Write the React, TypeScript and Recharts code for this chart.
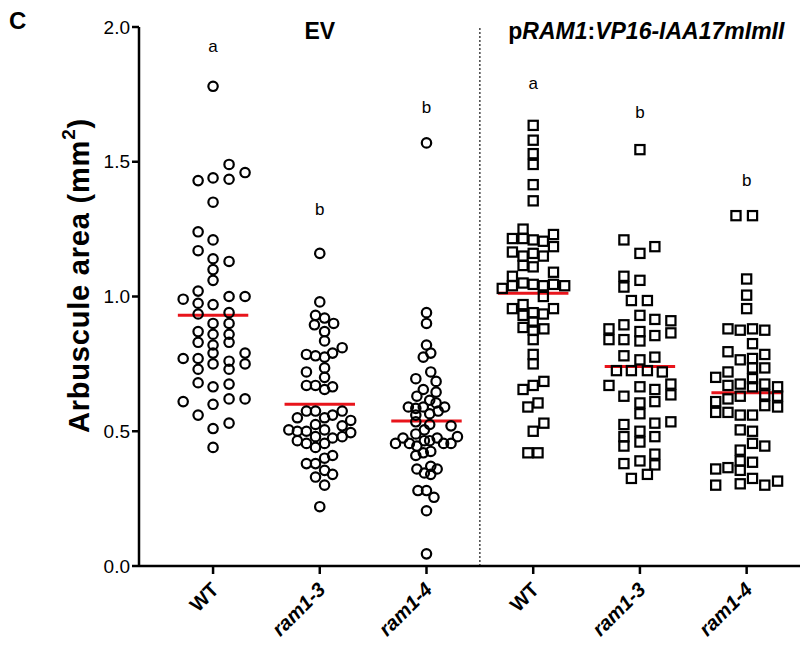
import { ReferenceLine, Scatter, ScatterChart, XAxis, YAxis } from "recharts";

const FONT = "'Liberation Sans', Arial, sans-serif";

const groupLabels = ["WT", "ram1-3", "ram1-4", "WT", "ram1-3", "ram1-4"];
const sigLetters = ["a", "b", "b", "a", "b", "b"];
const letterHeights = [1.926, 1.321, 1.703, 1.792, 1.681, 1.429];
const medians = [0.93, 0.6, 0.538, 1.012, 0.74, 0.643];
const yTicks = [0, 0.5, 1, 1.5, 2];
const xTicks = [1, 2, 3, 4, 5, 6];

// [arbuscule area mm², horizontal jitter in group widths]
const evWT: [number, number][] = [
  [1.78, 0], [1.49, 0.15], [1.46, 0.3], [1.43, -0.14], [1.44, 0], [1.435, 0.15],
  [1.35, 0], [1.24, -0.14], [1.21, 0], [1.17, -0.14], [1.14, 0], [1.13, 0.15],
  [1.1, 0], [1.06, 0], [1.02, -0.14], [0.99, -0.28], [0.975, -0.14], [0.97, 0],
  [1.0, 0.15], [1.0, 0.3], [0.935, -0.14], [0.94, 0.15], [0.9, 0], [0.9, 0.15],
  [0.87, -0.14], [0.86, 0], [0.86, 0.15], [0.83, -0.14], [0.82, 0], [0.83, 0.15],
  [0.79, 0], [0.79, 0.3], [0.77, -0.28], [0.77, -0.14], [0.75, 0], [0.76, 0.15],
  [0.75, 0.3], [0.73, -0.14], [0.73, 0.15], [0.68, -0.14], [0.665, 0], [0.675, 0.15],
  [0.61, -0.28], [0.6, 0], [0.62, 0.15], [0.62, 0.3], [0.56, -0.14], [0.51, 0],
  [0.53, 0.15], [0.44, 0],
];
const evRam13: [number, number][] = [
  [1.16, 0], [0.98, 0], [0.93, -0.04], [0.92, 0.045], [0.895, -0.05], [0.9, 0.13],
  [0.87, 0.045], [0.835, 0.045], [0.785, -0.125], [0.78, -0.04], [0.775, 0.045],
  [0.79, 0.12], [0.81, 0.21], [0.72, -0.125], [0.735, 0.045], [0.7, 0.045],
  [0.67, -0.125], [0.67, -0.04], [0.655, 0.045], [0.665, 0.12], [0.575, -0.125],
  [0.575, -0.04], [0.575, 0.21], [0.55, -0.21], [0.55, 0.045], [0.56, 0.12],
  [0.525, -0.04], [0.52, 0.21], [0.54, 0.29], [0.505, -0.29], [0.5, -0.21],
  [0.5, -0.125], [0.505, 0.045], [0.495, 0.29], [0.48, -0.04], [0.475, 0.12],
  [0.48, 0.21], [0.465, -0.21], [0.455, -0.125], [0.44, -0.04], [0.455, 0.045],
  [0.38, -0.125], [0.38, -0.04], [0.4, 0.045], [0.41, 0.12], [0.355, 0.045],
  [0.33, -0.04], [0.34, 0.12], [0.3, 0.045], [0.22, 0],
];
const evRam14: [number, number][] = [
  [1.57, 0], [0.94, 0], [0.9, 0], [0.82, 0], [0.79, 0.04], [0.775, -0.03],
  [0.72, 0.04], [0.695, -0.1], [0.685, 0.09], [0.655, -0.03], [0.645, 0.09],
  [0.63, -0.09], [0.615, 0.03], [0.59, -0.17], [0.585, -0.1], [0.59, -0.03],
  [0.605, 0.09], [0.59, 0.17], [0.56, -0.1], [0.565, 0.03], [0.575, 0.11],
  [0.52, 0.23], [0.535, -0.1], [0.525, 0.03], [0.49, -0.1], [0.505, -0.02],
  [0.48, 0.29], [0.455, -0.29], [0.475, -0.22], [0.455, -0.16], [0.445, -0.09],
  [0.465, -0.02], [0.465, 0.03], [0.475, 0.1], [0.455, 0.16], [0.455, 0.23],
  [0.42, -0.03], [0.425, 0.04], [0.41, -0.1], [0.36, -0.09], [0.345, -0.02],
  [0.37, 0.04], [0.36, 0.1], [0.34, 0.04], [0.28, -0.08], [0.28, 0],
  [0.255, 0.07], [0.205, 0], [0.045, 0],
];
const vpWT: [number, number][] = [
  [1.635, 0], [1.58, 0], [1.53, 0], [1.49, 0], [1.415, 0], [1.355, 0],
  [1.25, -0.095], [1.215, -0.195], [1.215, -0.095], [1.21, 0], [1.205, 0.095],
  [1.23, 0.19], [1.185, 0.19], [1.165, -0.195], [1.15, -0.095], [1.16, 0],
  [1.15, 0.095], [1.115, -0.095], [1.11, 0], [1.075, -0.195], [1.09, 0.19],
  [1.03, -0.29], [1.04, -0.195], [1.05, -0.095], [1.045, 0], [1.04, 0.095],
  [1.045, 0.19], [1.04, 0.295], [1.0, 0.095], [0.955, -0.195], [0.97, -0.095],
  [0.955, 0.19], [0.93, -0.095], [0.94, 0], [0.935, 0.095], [0.885, -0.095],
  [0.905, 0], [0.88, 0.1], [0.875, 0], [0.84, 0], [0.785, 0], [0.75, 0],
  [0.655, -0.095], [0.67, 0], [0.685, 0.1], [0.59, -0.05], [0.605, 0.045],
  [0.5, 0], [0.53, 0.1], [0.42, -0.05], [0.42, 0.045],
];
const vpRam13: [number, number][] = [
  [1.545, 0], [1.21, -0.15], [1.185, 0.14], [1.16, 0], [1.075, -0.15], [1.06, 0],
  [1.035, -0.15], [0.985, -0.08], [0.985, 0.07], [0.93, 0], [0.895, -0.15],
  [0.915, 0.14], [0.91, 0.29], [0.88, -0.29], [0.87, 0], [0.865, 0.29],
  [0.84, -0.29], [0.84, -0.15], [0.835, 0], [0.855, 0.14], [0.78, -0.15],
  [0.765, 0], [0.775, 0.14], [0.725, -0.22], [0.725, -0.08], [0.725, 0.07],
  [0.72, 0.21], [0.67, -0.29], [0.63, -0.15], [0.665, 0], [0.655, 0.14],
  [0.675, 0.29], [0.635, 0.29], [0.605, 0], [0.61, 0.14], [0.565, 0],
  [0.525, -0.15], [0.53, 0.14], [0.535, 0.29], [0.48, -0.15], [0.5, 0],
  [0.46, 0], [0.48, 0.14], [0.445, -0.15], [0.38, -0.15], [0.39, 0],
  [0.415, 0.14], [0.375, 0.14], [0.325, -0.08], [0.34, 0.07],
];
const vpRam14: [number, number][] = [
  [1.3, -0.1], [1.3, 0.055], [1.065, 0], [1.005, 0], [0.955, 0], [0.88, -0.175],
  [0.875, -0.06], [0.88, 0.055], [0.875, 0.17], [0.825, 0.055], [0.795, -0.175],
  [0.765, -0.06], [0.77, 0.055], [0.785, 0.17], [0.72, -0.175], [0.735, 0.055],
  [0.735, 0.17], [0.7, -0.29], [0.695, 0.055], [0.67, -0.175], [0.675, -0.06],
  [0.665, 0.055], [0.675, 0.17], [0.665, 0.29], [0.61, -0.29], [0.62, -0.175],
  [0.63, -0.06], [0.635, 0.17], [0.63, 0.29], [0.595, 0.17], [0.59, 0.29],
  [0.57, -0.29], [0.57, -0.175], [0.56, -0.06], [0.56, 0.055], [0.505, -0.06],
  [0.5, 0.055], [0.455, 0.055], [0.445, 0.17], [0.43, -0.06], [0.39, -0.06],
  [0.385, 0.055], [0.36, -0.29], [0.365, -0.175], [0.355, -0.06], [0.3, -0.29],
  [0.305, -0.06], [0.325, 0.055], [0.3, 0.17], [0.315, 0.29],
];

const groups = [evWT, evRam13, evRam14, vpWT, vpRam13, vpRam14];

const toPoints = (pts: [number, number][], gi: number) =>
  pts.map(([v, off]) => ({ x: gi + 1 + off, y: v }));

const Circle = (p: any) => (
  <circle cx={p.cx} cy={p.cy} r={4.7} fill="none" stroke="#000" strokeWidth={2.2} />
);
const Square = (p: any) => (
  <rect x={p.cx - 4.6} y={p.cy - 4.6} width={9.2} height={9.2} fill="none" stroke="#000" strokeWidth={2.2} />
);

const letterData = sigLetters.map((t, i) => ({ x: i + 1, y: letterHeights[i], t }));
const titleData = [
  { x: 2, y: 1.985, t: "ev" },
  { x: 5.06, y: 1.985, t: "vp" },
];

const TitleShape = (p: any) => {
  if (p.payload.t === "ev") {
    return (
      <text x={p.cx} y={p.cy} textAnchor="middle" dominantBaseline="central" fontFamily={FONT} fontWeight="bold" fontSize={23}>
        EV
      </text>
    );
  }
  return (
    <text x={p.cx} y={p.cy} textAnchor="middle" dominantBaseline="central" fontFamily={FONT} fontWeight="bold" fontSize={23}>
      <tspan>p</tspan>
      <tspan fontStyle="italic">RAM1</tspan>
      <tspan>:</tspan>
      <tspan fontStyle="italic">VP16-IAA17mImII</tspan>
    </text>
  );
};

const XTick = (p: any) => {
  const label = groupLabels[p.index];
  const italic = label !== "WT";
  const x = p.x + 2;
  const y = p.y + 10;
  return (
    <text
      x={x}
      y={y}
      transform={`rotate(-45 ${x} ${y})`}
      textAnchor="end"
      dominantBaseline="central"
      fontFamily={FONT}
      fontWeight="bold"
      fontStyle={italic ? "italic" : "normal"}
      fontSize={20}
      fill="#000"
    >
      {label}
    </text>
  );
};

const YLabel = (props: any) => {
  const vb = props.viewBox;
  const cx = vb.x + 79;
  const cy = vb.y + vb.height / 2 - 21;
  return (
    <text
      x={cx}
      y={cy}
      transform={`rotate(-90 ${cx} ${cy})`}
      textAnchor="middle"
      dominantBaseline="central"
      fontFamily={FONT}
      fontWeight="bold"
      fontSize={29}
      letterSpacing={0.8}
    >
      Arbuscule area (mm
      <tspan baselineShift="super" fontSize={19}>2</tspan>)
    </text>
  );
};

export default function App() {
  return (
    <div style={{ position: "absolute", left: 0, top: 0, width: 811, height: 654, background: "#fff" }}>
      <div
        style={{
          position: "absolute",
          left: 9,
          top: 8,
          fontFamily: FONT,
          fontWeight: "bold",
          fontSize: 24,
          lineHeight: "26px",
        }}
      >
        C
      </div>
      <ScatterChart width={811} height={654} margin={{ top: 27, right: 11, bottom: 8, left: 0 }}>
        <XAxis
          type="number"
          dataKey="x"
          domain={[0.306, 6.5]}
          ticks={xTicks}
          allowDataOverflow
          height={80}
          tickSize={8}
          tick={<XTick />}
          axisLine={{ stroke: "#000", strokeWidth: 2.5 }}
          tickLine={{ stroke: "#000", strokeWidth: 2.5 }}
        />
        <YAxis
          type="number"
          dataKey="y"
          domain={[0, 2]}
          ticks={yTicks}
          width={139}
          tickSize={7}
          tickFormatter={(v: number) => v.toFixed(1)}
          tick={{ fontSize: 19, fill: "#000", fontFamily: FONT }}
          axisLine={{ stroke: "#000", strokeWidth: 2.5 }}
          tickLine={{ stroke: "#000", strokeWidth: 2.5 }}
          label={{ content: YLabel }}
        />
        <ReferenceLine x={3.5} stroke="#444" strokeWidth={1.5} strokeDasharray="2 2" />
        {groups.map((pts, gi) => (
          <Scatter
            key={gi}
            data={toPoints(pts, gi)}
            shape={gi < 3 ? Circle : Square}
            isAnimationActive={false}
          />
        ))}
        {medians.map((m, i) => (
          <ReferenceLine
            key={"m" + i}
            segment={[
              { x: i + 1 - 0.33, y: m },
              { x: i + 1 + 0.33, y: m },
            ]}
            stroke="#e8141b"
            strokeWidth={3}
          />
        ))}
        <Scatter
          data={letterData}
          isAnimationActive={false}
          shape={(p: any) => (
            <text x={p.cx} y={p.cy} textAnchor="middle" dominantBaseline="central" fontFamily={FONT} fontSize={17}>
              {p.payload.t}
            </text>
          )}
        />
        <Scatter data={titleData} isAnimationActive={false} shape={TitleShape} />
      </ScatterChart>
    </div>
  );
}
